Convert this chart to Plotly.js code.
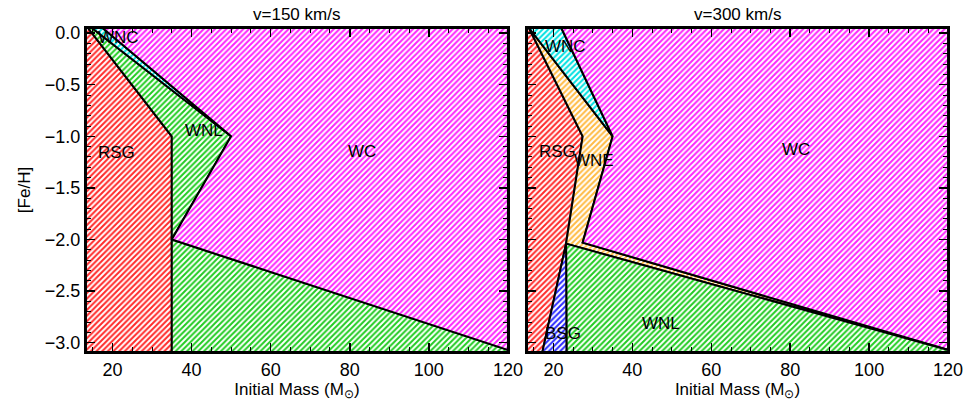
<!DOCTYPE html>
<html>
<head>
<meta charset="utf-8">
<script src="https://cdn.plot.ly/plotly-3.0.1.min.js"></script>
<style>html,body{margin:0;padding:0;background:#fff;}#chart{width:967px;height:408px;}</style>
</head>
<body>
<div id="chart"></div>
<script>
// ---- Data: region boundaries in (Initial Mass, [Fe/H]) ----
// Panel 1: v = 150 km/s
const p1_RSG_x = [13.3, 13.8, 35, 35, 13.3];
const p1_RSG_y = [0.05, 0.05, -1.0, -3.09, -3.09];
const p1_WNLtop_x = [13.8, 14.8, 50, 35, 35];
const p1_WNLtop_y = [0.05, 0.05, -1.0, -2.0, -1.0];
const p1_WNLbot_x = [35, 120, 120, 35];
const p1_WNLbot_y = [-2.0, -3.07, -3.09, -3.09];
const p1_WNC_x = [14.8, 17.5, 50];
const p1_WNC_y = [0.05, 0.05, -1.0];
const p1_WC_x = [17.5, 120, 120, 35, 50];
const p1_WC_y = [0.05, 0.05, -3.07, -2.0, -1.0];

// Panel 2: v = 300 km/s
const p2_RSG_x = [13.3, 13.8, 27.4, 23.2, 17.2, 13.3];
const p2_RSG_y = [0.05, 0.05, -1.0, -2.04, -3.09, -3.09];
const p2_WNE_x = [13.8, 35, 27.4, 120, 23.2, 27.4];
const p2_WNE_y = [0.05, -1.0, -2.03, -3.07, -2.04, -1.0];
const p2_WNC_x = [13.8, 22.0, 35];
const p2_WNC_y = [0.05, 0.05, -1.0];
const p2_WC_x = [22.0, 120, 120, 27.4, 35];
const p2_WC_y = [0.05, 0.05, -3.07, -2.03, -1.0];
const p2_WNL_x = [23.2, 120, 120, 23.3];
const p2_WNL_y = [-2.04, -3.07, -3.09, -3.09];
const p2_BSG_x = [23.2, 23.3, 17.2];
const p2_BSG_y = [-2.04, -3.09, -3.09];

// Region labels
const p1_labels = ["WNC", "RSG", "WNL", "WC"];
const p1_lab_x = [21.5, 21, 43.2, 83.2];
const p1_lab_y = [-0.04, -1.16, -0.94, -1.15];
const p2_labels = ["WNC", "RSG", "WNE", "WC", "BSG", "WNL"];
const p2_lab_x = [23, 21, 30.2, 81.4, 22.5, 47.2];
const p2_lab_y = [-0.13, -1.15, -1.23, -1.13, -2.91, -2.81];

const panelTitles = ["v=150 km/s", "v=300 km/s"];
const xTitle = "Initial Mass (M<sub>⊙</sub>)";
const yTitle = "[Fe/H]";

// ---- Styles ----
const COL = {
  RSG: "#ff2a2a", WNL: "#22cc22", WNC: "#00e0e0", WC: "#ff22ff",
  WNE: "#ffbb44", BSG: "#2b2bff"
};

function region(x, y, c, xa, ya) {
  return {
    type: "scatter", mode: "lines", x: x.concat([x[0]]), y: y.concat([y[0]]),
    xaxis: xa, yaxis: ya, fill: "toself", fillcolor: "rgba(255,255,255,0)",
    fillpattern: {shape: "/", fgcolor: c, bgcolor: "white", size: 4, solidity: 0.5},
    line: {color: "black", width: 2}, hoverinfo: "skip", showlegend: false
  };
}

const traces = [
  region(p1_RSG_x, p1_RSG_y, COL.RSG, "x", "y"),
  region(p1_WNLtop_x, p1_WNLtop_y, COL.WNL, "x", "y"),
  region(p1_WNLbot_x, p1_WNLbot_y, COL.WNL, "x", "y"),
  region(p1_WNC_x, p1_WNC_y, COL.WNC, "x", "y"),
  region(p1_WC_x, p1_WC_y, COL.WC, "x", "y"),
  region(p2_RSG_x, p2_RSG_y, COL.RSG, "x2", "y2"),
  region(p2_WNE_x, p2_WNE_y, COL.WNE, "x2", "y2"),
  region(p2_WNC_x, p2_WNC_y, COL.WNC, "x2", "y2"),
  region(p2_WC_x, p2_WC_y, COL.WC, "x2", "y2"),
  region(p2_WNL_x, p2_WNL_y, COL.WNL, "x2", "y2"),
  region(p2_BSG_x, p2_BSG_y, COL.BSG, "x2", "y2")
];

const FONT = "Liberation Sans, Arial, sans-serif";
const xbase = {
  range: [13.3, 120], dtick: 20, tick0: 0, ticks: "inside", ticklen: 9, tickwidth: 1.5,
  tickcolor: "black", showline: true, linecolor: "black", linewidth: 2, mirror: "allticks",
  showgrid: false, zeroline: false,
  minor: {dtick: 5, ticks: "inside", ticklen: 5, tickcolor: "black", tickwidth: 1, showgrid: false},
  tickfont: {family: FONT, size: 18, color: "black"},
  title: {text: xTitle, font: {family: FONT, size: 17, color: "black"}, standoff: 4}
};
const ybase = {
  range: [-3.09, 0.05], dtick: 0.5, tick0: 0, ticks: "inside", ticklen: 9, tickwidth: 1.5,
  tickcolor: "black", showline: true, linecolor: "black", linewidth: 2, mirror: "allticks",
  showgrid: false, zeroline: false, tickformat: ".1f",
  minor: {dtick: 0.1, ticks: "inside", ticklen: 5, tickcolor: "black", tickwidth: 1, showgrid: false},
  tickfont: {family: FONT, size: 18, color: "black"}
};

const annotations = [];
p1_labels.forEach((t, i) => annotations.push({x: p1_lab_x[i], y: p1_lab_y[i], xref: "x", yref: "y",
  text: t, showarrow: false, font: {family: FONT, size: 17, color: "black"}}));
p2_labels.forEach((t, i) => annotations.push({x: p2_lab_x[i], y: p2_lab_y[i], xref: "x2", yref: "y2",
  text: t, showarrow: false, font: {family: FONT, size: 17, color: "black"}}));
const doms = [[0.0889, 0.5253], [0.545, 0.9804]];
panelTitles.forEach((t, i) => annotations.push({x: (doms[i][0] + doms[i][1]) / 2, y: 0.936,
  xref: "paper", yref: "paper", xanchor: "center", yanchor: "bottom", text: t, showarrow: false,
  font: {family: FONT, size: 17, color: "black"}}));

const layout = {
  width: 967, height: 408, margin: {l: 0, r: 0, t: 0, b: 0},
  paper_bgcolor: "white", plot_bgcolor: "white", showlegend: false,
  xaxis: Object.assign({}, xbase, {domain: doms[0], anchor: "y"}),
  yaxis: Object.assign({}, ybase, {domain: [0.1373, 0.9314], anchor: "x",
    title: {text: yTitle, font: {family: FONT, size: 17, color: "black"}, standoff: 10}}),
  xaxis2: Object.assign({}, xbase, {domain: doms[1], anchor: "y2"}),
  yaxis2: Object.assign({}, ybase, {domain: [0.1373, 0.9314], anchor: "x2", showticklabels: false}),
  annotations: annotations
};

Plotly.newPlot("chart", traces, layout, {staticPlot: true, displayModeBar: false});
</script>
</body>
</html>
